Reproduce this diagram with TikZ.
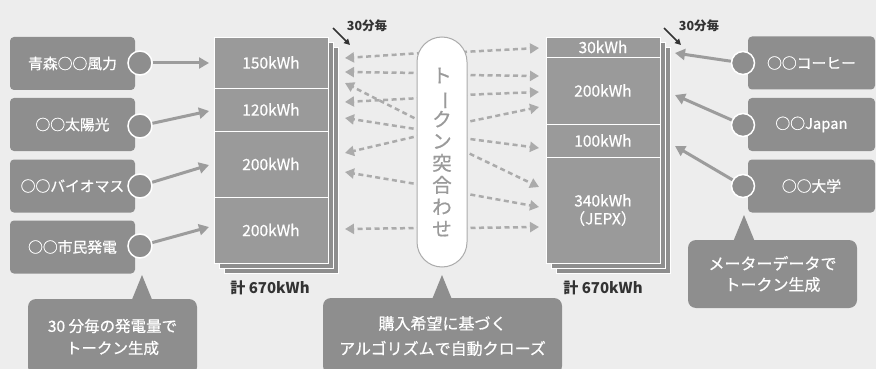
\documentclass[tikz,border=0pt]{standalone}
\usepackage{fontspec}
\usepackage{graphicx}
\setmainfont{Noto Sans CJK JP}
\newfontfamily\medfont[FakeBold=0.6]{Noto Sans CJK JP}
\usetikzlibrary{arrows.meta}
\definecolor{bg}{HTML}{EDEDED}
\definecolor{boxg}{HTML}{8E8E8E}
\definecolor{stackg}{HTML}{9A9A9A}
\definecolor{arrg}{HTML}{9C9C9C}
\definecolor{dashg}{HTML}{ABABAB}
\definecolor{pilltxt}{HTML}{9A9A9A}
\definecolor{txtd}{HTML}{333333}
\begin{document}
\begin{tikzpicture}[x=1pt,y=-1pt,
  srcbox/.style={rectangle,rounded corners=4pt,fill=boxg,text=white,inner sep=0pt,minimum width=125pt,minimum height=53pt,font=\medfont\fontsize{14.8}{16}\selectfont},
  dot/.style={circle,fill=boxg,draw=white,line width=1.5pt,minimum size=24pt,inner sep=0pt},
  seg/.style={rectangle,fill=stackg,draw=white,line width=0.8pt,inner sep=0pt,minimum width=114pt,text=white,align=center,font=\medfont\fontsize{15.5}{18}\selectfont},
  layer/.style={fill=boxg,draw=white,line width=0.8pt},
  flow/.style={draw=arrg,line width=3pt,-{Triangle[length=10pt,width=11pt]}},
  match/.style={draw=dashg,line width=2.5pt,dash pattern=on 5pt off 3.5pt,-{Triangle[length=9pt,width=10pt]}},
  note/.style={rectangle,rounded corners=8pt,fill=boxg,text=white,inner sep=0pt,align=center},
  pill/.style={rectangle,rounded corners=25pt,fill=white,draw=dashg,line width=1pt,minimum width=50pt,minimum height=230pt,inner sep=0pt,align=center,text=pilltxt,font=\medfont\fontsize{19.5}{21.9}\selectfont},
  tick/.style={draw=txtd,line width=1.6pt,-{Triangle[length=6pt,width=6pt]}},
  total/.style={text=txtd,font=\bfseries\fontsize{15}{17}\selectfont},
  every30/.style={text=txtd,font=\bfseries\fontsize{12.5}{14}\selectfont}
]
\useasboundingbox (0,0) rectangle (876,369);
\clip (0,0) rectangle (876,369);
\fill[bg] (0,0) rectangle (876,369);

% ---- left sources
\node[srcbox] (s1) at (72.5,63.5) {青森○○風力};
\node[srcbox] (s2) at (72.5,124.5) {○○太陽光};
\node[srcbox] (s3) at (72.5,186) {○○バイオマス};
\node[srcbox] (s4) at (72.5,247) {○○市民発電};
\node[dot] (c1) at (140,63) {};
\node[dot] (c2) at (140,126) {};
\node[dot] (c3) at (140,186) {};
\node[dot] (c4) at (140,246) {};

% ---- left stack
\draw[layer] (224,47) rectangle (338,273);
\draw[layer] (219,42) rectangle (333,268);
\node[seg,minimum height=51pt] (l1) at (271,62.5) {150kWh};
\node[seg,minimum height=43pt] (l2) at (271,109.5) {120kWh};
\node[seg,minimum height=66pt] (l3) at (271,164) {200kWh};
\node[seg,minimum height=66pt] (l4) at (271,230) {200kWh};
\node[total] (lt) at (270,288) {計 670kWh};

% ---- right stack
\draw[layer] (556,47) rectangle (670,273);
\draw[layer] (551,42) rectangle (665,268);
\node[seg,minimum height=20pt] (r1) at (603,47) {30kWh};
\node[seg,minimum height=67pt] (r2) at (603,90.5) {200kWh};
\node[seg,minimum height=33pt] (r3) at (603,140.5) {100kWh};
\node[seg,minimum height=106pt] (r4) at (603,210) {340kWh\\（JEPX）};
\node[total] (rt) at (603,288) {計 670kWh};

% ---- right consumers
\node[srcbox,minimum width=127pt] (d1) at (811.5,63) {○○コーヒー};
\node[srcbox,minimum width=127pt] (d2) at (811.5,124.5) {○○Japan};
\node[srcbox,minimum width=127pt] (d3) at (811.5,186) {○○大学};
\node[dot,minimum size=23pt] (e1) at (743,63) {};
\node[dot,minimum size=23pt] (e2) at (743,125) {};
\node[dot,minimum size=23pt] (e3) at (743,186) {};

% ---- solid flows
\coordinate (a1) at (209,63);
\coordinate (a2) at (209,111);
\coordinate (a3) at (209,165);
\coordinate (a4) at (209,227);
\draw[flow] (c1) -- (a1);
\draw[flow] (c2) -- (a2);
\draw[flow] (c3) -- (a3);
\draw[flow] (c4) -- (a4);
\coordinate (b1) at (675,53);
\coordinate (b2) at (675,95);
\coordinate (b3) at (675,146);
\draw[flow] (e1) -- (b1);
\draw[flow] (e2) -- (b2);
\draw[flow] (e3) -- (b3);

% ---- dashed matching arrows
\foreach \i/\ys/\ye in {1/53/58, 2/73/72, 3/122/83, 4/98/102, 5/130/118, 6/135/153, 7/185/172, 8/228/229}{
  \coordinate (ps\i) at (422,\ys);
  \coordinate (pe\i) at (345,\ye);
  \draw[match] (ps\i) -- (pe\i);
}
\foreach \i/\ys/\ye in {1/52/48, 2/75/76, 3/95/92, 4/123/107, 5/138/148, 6/150/187, 7/193/207, 8/228/227}{
  \coordinate (qs\i) at (462,\ys);
  \coordinate (qe\i) at (539,\ye);
  \draw[match] (qs\i) -- (qe\i);
}
\node[pill] (pill) at (442,152) {ト\\\rotatebox[origin=c]{-90}{ー}\\ク\\ン\\突\\合\\わ\\せ};

% ---- 30 min markers
\node[every30] (m1) at (367,26) {30分毎};
\node[every30] (m2) at (699,26) {30分毎};
\coordinate (m1s) at (333,28);
\coordinate (m1e) at (350,45);
\coordinate (m2s) at (664,28);
\coordinate (m2e) at (681,45);
\draw[tick] (m1s) -- (m1e);
\draw[tick] (m2s) -- (m2e);

% ---- callouts
\fill[boxg] (142,275) -- (131,302) -- (153,302) -- cycle;
\node[note,minimum width=169pt,minimum height=76pt,font=\medfont\fontsize{15.5}{22}\selectfont] (n1) at (112.5,337) {30 分毎の発電量で\\トークン生成};
\fill[boxg] (442,275) -- (431,302) -- (453,302) -- cycle;
\node[note,minimum width=239pt,minimum height=76pt,font=\medfont\fontsize{16}{25}\selectfont] (n2) at (442.5,336) {購入希望に基づく\\アルゴリズムで自動クローズ};
\fill[boxg] (744,215) -- (733,242) -- (755,242) -- cycle;
\node[note,minimum width=169pt,minimum height=68pt,font=\medfont\fontsize{16}{21}\selectfont] (n3) at (772.5,274) {メーターデータで\\トークン生成};
\end{tikzpicture}
\end{document}
